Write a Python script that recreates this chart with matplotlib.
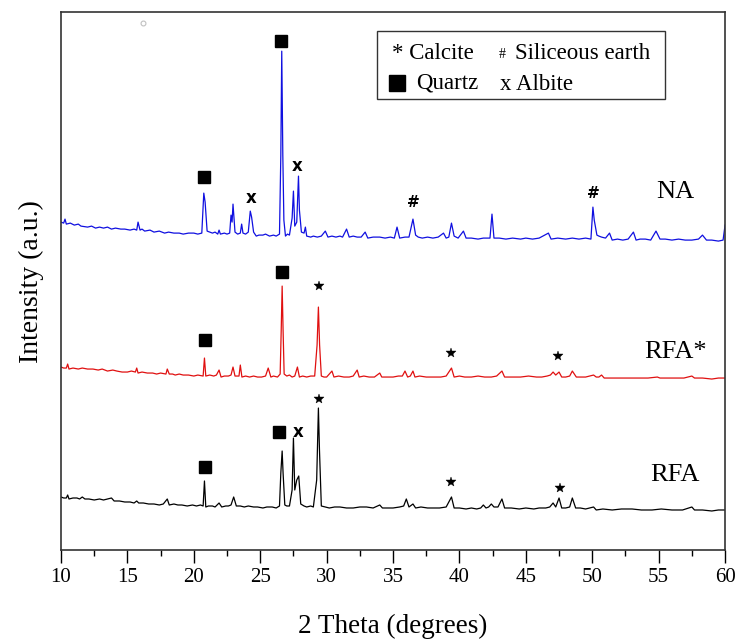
import matplotlib
matplotlib.use("Agg")
import matplotlib.pyplot as plt
from matplotlib.ticker import MultipleLocator

# XRD patterns: (2theta, intensity a.u.) for each sample
na_pattern = [(10.0, 28), (10.2, 27), (10.3, 31), (10.4, 26), (10.7, 27), (11.0, 25), (11.3, 26), (11.5, 24),
              (12.0, 23), (12.3, 24), (12.6, 22), (12.9, 23), (13.2, 22), (13.5, 23), (13.8, 21), (14.1, 22),
              (14.5, 21), (14.8, 21), (15.2, 20), (15.5, 21), (15.7, 20), (15.8, 28), (15.95, 20), (16.1, 21),
              (16.3, 19), (16.7, 20), (17.0, 18), (17.4, 19), (17.8, 17), (18.1, 18), (18.5, 17), (18.9, 17),
              (19.2, 16), (19.6, 17), (20.0, 17), (20.3, 16), (20.6, 17), (20.75, 57), (20.85, 48), (21.0, 19),
              (21.2, 18), (21.4, 17), (21.6, 18), (21.8, 16), (21.9, 20), (22.0, 16), (22.3, 17), (22.5, 16),
              (22.7, 17), (22.8, 35), (22.88, 28), (22.95, 46), (23.1, 18), (23.3, 16), (23.5, 17), (23.6, 26),
              (23.7, 17), (23.9, 16), (24.1, 18), (24.25, 39), (24.35, 33), (24.5, 18), (24.7, 14), (24.9, 15),
              (25.2, 15), (25.4, 16), (25.7, 14), (26.0, 15), (26.2, 14), (26.45, 16), (26.55, 95), (26.62, 199),
              (26.7, 95), (26.78, 30), (26.9, 14), (27.05, 16), (27.2, 15), (27.4, 32), (27.5, 59), (27.6, 24),
              (27.75, 28), (27.88, 74), (27.95, 40), (28.1, 18), (28.3, 17), (28.4, 23), (28.5, 14), (28.8, 13),
              (29.0, 14), (29.3, 13), (29.6, 14), (29.9, 19), (30.1, 13), (30.4, 14), (30.7, 13), (31.0, 14),
              (31.2, 13), (31.5, 21), (31.7, 13), (32.0, 14), (32.3, 13), (32.6, 13), (32.9, 18), (33.1, 12),
              (33.5, 13), (34.0, 13), (34.4, 12), (34.8, 13), (35.1, 12), (35.3, 23), (35.5, 12), (35.9, 13),
              (36.2, 13), (36.5, 31), (36.7, 15), (36.9, 13), (37.2, 12), (37.6, 13), (38.0, 12), (38.4, 13),
              (38.8, 17), (39.0, 12), (39.2, 13), (39.4, 27), (39.6, 14), (39.9, 12), (40.3, 19), (40.5, 12),
              (40.9, 12), (41.4, 11), (41.8, 12), (42.3, 12), (42.45, 36), (42.6, 12), (43.0, 12), (43.5, 11),
              (44.0, 12), (44.6, 11), (45.0, 12), (45.5, 11), (46.0, 12), (46.7, 17), (46.9, 11), (47.4, 12),
              (48.0, 11), (48.5, 12), (49.0, 11), (49.5, 12), (49.9, 11), (50.05, 43), (50.15, 30), (50.35, 15),
              (50.5, 14), (50.7, 13), (51.0, 12), (51.3, 17), (51.5, 10), (51.9, 11), (52.3, 10), (52.7, 11),
              (53.1, 18), (53.3, 10), (53.6, 11), (54.0, 11), (54.4, 10), (54.8, 19), (55.1, 11), (55.5, 11),
              (56.0, 10), (56.5, 11), (57.0, 10), (57.5, 10), (58.0, 11), (58.3, 15), (58.6, 10), (59.0, 10),
              (59.5, 9), (59.85, 10), (60.0, 25)]

rfas_pattern = [(10.0, 23), (10.2, 22), (10.4, 22), (10.5, 26), (10.6, 21), (10.9, 22), (11.3, 21), (11.6, 22),
                (12.0, 21), (12.4, 21), (12.8, 20), (13.1, 21), (13.5, 19), (13.9, 20), (14.2, 19), (14.6, 18),
                (15.0, 18), (15.3, 19), (15.6, 18), (15.7, 22), (15.8, 17), (16.1, 18), (16.5, 17), (16.9, 17),
                (17.2, 16), (17.5, 17), (17.9, 16), (18.0, 21), (18.15, 16), (18.4, 16), (18.6, 15), (18.9, 16),
                (19.2, 15), (19.6, 15), (20.0, 14), (20.3, 15), (20.7, 14), (20.8, 32), (20.9, 14), (21.2, 15),
                (21.5, 14), (21.7, 15), (21.9, 20), (22.05, 13), (22.3, 14), (22.6, 14), (22.8, 15), (22.95, 23),
                (23.1, 14), (23.4, 14), (23.5, 25), (23.62, 13), (23.9, 14), (24.2, 13), (24.5, 14), (24.8, 13),
                (25.1, 13), (25.4, 14), (25.6, 22), (25.8, 13), (26.0, 14), (26.3, 13), (26.5, 16), (26.58, 60),
                (26.65, 104), (26.72, 60), (26.8, 16), (27.0, 14), (27.2, 15), (27.4, 13), (27.6, 14), (27.8, 23),
                (27.95, 13), (28.2, 14), (28.5, 13), (28.8, 14), (29.1, 14), (29.28, 45), (29.38, 83), (29.47, 45),
                (29.6, 14), (29.8, 13), (30.0, 13), (30.4, 19), (30.55, 13), (30.9, 14), (31.3, 13), (31.7, 13),
                (32.0, 14), (32.3, 20), (32.45, 13), (32.8, 14), (33.2, 13), (33.6, 13), (34.0, 17), (34.15, 13),
                (34.5, 13), (35.0, 13), (35.4, 14), (35.7, 14), (35.9, 19), (36.1, 13), (36.3, 14), (36.5, 19),
                (36.65, 13), (37.0, 14), (37.5, 13), (38.0, 13), (38.6, 13), (39.0, 14), (39.4, 22), (39.6, 13),
                (40.0, 14), (40.4, 13), (40.9, 13), (41.4, 14), (41.9, 13), (42.4, 13), (42.8, 14), (43.2, 19),
                (43.4, 13), (44.0, 13), (44.6, 13), (45.2, 14), (45.8, 13), (46.2, 13), (46.6, 14), (46.85, 15),
                (47.05, 18), (47.25, 15), (47.5, 18), (47.7, 13), (48.0, 13), (48.3, 14), (48.5, 19), (48.8, 13),
                (49.1, 13), (49.5, 13), (49.8, 14), (50.1, 15), (50.3, 13), (50.5, 13), (50.7, 15), (50.9, 12),
                (51.5, 12), (52.0, 12), (52.7, 12), (53.5, 12), (54.2, 12), (54.9, 13), (55.1, 12), (55.7, 12),
                (56.3, 12), (56.9, 12), (57.5, 14), (57.7, 12), (58.3, 12), (59.0, 11), (59.5, 12), (60.0, 12)]

rfa_pattern = [(10.0, 23), (10.2, 22), (10.4, 22), (10.5, 25), (10.6, 21), (10.9, 22), (11.2, 22), (11.4, 21),
               (11.6, 23), (11.8, 21), (12.1, 21), (12.5, 20), (12.9, 21), (13.2, 20), (13.5, 21), (13.8, 22),
               (14.0, 19), (14.4, 19), (14.8, 18), (15.2, 18), (15.5, 17), (15.7, 19), (15.85, 17), (16.2, 17),
               (16.6, 16), (17.0, 16), (17.4, 15), (17.7, 16), (18.0, 21), (18.15, 15), (18.5, 16), (18.8, 15),
               (19.1, 15), (19.5, 14), (19.9, 15), (20.2, 14), (20.5, 15), (20.7, 14), (20.8, 39), (20.9, 13),
               (21.1, 14), (21.4, 14), (21.6, 13), (21.9, 17), (22.1, 13), (22.4, 14), (22.6, 14), (22.8, 15),
               (23.0, 23), (23.2, 14), (23.5, 14), (23.8, 13), (24.1, 14), (24.5, 13), (24.8, 13), (25.2, 12),
               (25.5, 13), (25.9, 13), (26.2, 12), (26.45, 14), (26.55, 47), (26.65, 69), (26.72, 47), (26.85, 15),
               (27.0, 14), (27.2, 14), (27.4, 30), (27.5, 82), (27.6, 30), (27.75, 40), (27.9, 44), (28.05, 16),
               (28.3, 14), (28.5, 13), (28.8, 14), (29.0, 13), (29.25, 40), (29.38, 112), (29.46, 70), (29.6, 14),
               (29.9, 13), (30.2, 12), (30.6, 13), (31.0, 13), (31.5, 12), (32.0, 12), (32.5, 13), (33.0, 13),
               (33.5, 12), (34.0, 15), (34.2, 12), (34.6, 12), (35.0, 12), (35.5, 13), (35.8, 14), (36.0, 21),
               (36.2, 13), (36.5, 16), (36.7, 12), (37.1, 13), (37.6, 12), (38.0, 12), (38.5, 12), (39.0, 13),
               (39.4, 23), (39.6, 12), (40.0, 12), (40.5, 11), (40.9, 12), (41.3, 11), (41.6, 12), (41.8, 15),
               (42.0, 12), (42.2, 13), (42.4, 16), (42.6, 13), (42.9, 13), (43.2, 21), (43.4, 12), (43.9, 12),
               (44.5, 11), (45.0, 12), (45.6, 11), (46.0, 12), (46.5, 12), (46.8, 13), (47.05, 17), (47.25, 13),
               (47.5, 22), (47.7, 12), (48.0, 12), (48.3, 13), (48.5, 22), (48.75, 12), (49.1, 12), (49.5, 11),
               (49.8, 12), (50.1, 13), (50.3, 10), (50.8, 11), (51.5, 10), (52.2, 11), (53.0, 11), (53.7, 10),
               (54.5, 10), (55.2, 11), (56.0, 10), (56.8, 10), (57.5, 13), (57.7, 10), (58.3, 10), (59.0, 9),
               (59.5, 10), (60.0, 10)]

# phase marks above the peaks: (2theta, intensity, symbol)
na_marks = [(20.8, 73, 's'), (26.6, 209, 's'), (24.35, 52, 'x'), (27.8, 84, 'x'),
            (36.5, 48, '#'), (50.1, 57, '#')]
rfas_marks = [(20.85, 50, 's'), (26.65, 118, 's'), (29.4, 104, '*'), (39.4, 37, '*'), (47.4, 34, '*')]
rfa_marks = [(20.85, 53, 's'), (26.45, 88, 's'), (27.85, 88, 'x'), (29.4, 121, '*'),
             (39.4, 38, '*'), (47.6, 32, '*')]

plt.rcParams['font.family'] = ['Liberation Serif', 'DejaVu Serif']

fig = plt.figure(figsize=(7.37, 6.41), dpi=100)
ax = fig.add_axes([0.0828, 0.142, 0.901, 0.839])

traces = [
    (na_pattern, na_marks, 300, '#1010e0', 'NA', 0.665),
    (rfas_pattern, rfas_marks, 160, '#e01010', 'RFA*', 0.368),
    (rfa_pattern, rfa_marks, 30, 'black', 'RFA', 0.139),
]

for pattern, marks, off, col, name, ypos in traces:
    th = [p[0] for p in pattern]
    inten = [p[1] + off for p in pattern]
    ax.plot(th, inten, color=col, lw=0.9)
    for x, y, sym in marks:
        if sym == 's':
            ax.plot(x, y + off, marker='s', ms=8.5, color='black', mec='black')
        elif sym == '*':
            ax.plot(x, y + off, marker='*', ms=7, color='black', mec='black', mew=0.3)
        else:
            ax.text(x, y + off, sym, ha='center', va='center', fontsize=12 if sym == 'x' else 11,
                    fontweight='bold', family='DejaVu Sans')
    ax.text(0.925, ypos, name, transform=ax.transAxes, ha='center', va='center', fontsize=19)

# small stray circle in the original
ax.plot(16.2, 527, marker='o', ms=3.5, mfc='none', mec='#c0c0c0', mew=0.8)

# legend box drawn by hand
lg = plt.Rectangle((0.476, 0.838), 0.434, 0.127, transform=ax.transAxes, fill=False,
                   ec='#333333', lw=1.0)
ax.add_patch(lg)
ax.text(0.4985, 0.924, '* Calcite', transform=ax.transAxes, ha='left', va='center', fontsize=16.5)
ax.text(0.664, 0.922, '#', transform=ax.transAxes, ha='center', va='center', fontsize=10)
ax.text(0.684, 0.924, 'Siliceous earth', transform=ax.transAxes, ha='left', va='center', fontsize=16.5)
ax.plot(0.506, 0.868, marker='s', ms=11, color='black', transform=ax.transAxes)
ax.text(0.535, 0.868, 'Quartz', transform=ax.transAxes, ha='left', va='center', fontsize=16.5)
ax.text(0.661, 0.866, 'x Albite', transform=ax.transAxes, ha='left', va='center', fontsize=16.5)

ax.set_xlim(10, 60)
ax.set_ylim(0, 538)
ax.xaxis.set_major_locator(MultipleLocator(5))
ax.xaxis.set_minor_locator(MultipleLocator(2.5))
ax.tick_params(axis='x', which='major', direction='out', length=9, width=1.0, labelsize=15, pad=4)
ax.tick_params(axis='x', which='minor', direction='out', length=4.5, width=1.0)
ax.set_yticks([])
for sp in ax.spines.values():
    sp.set_color('#333333')
    sp.set_linewidth(1.2)

ax.set_xlabel('2 Theta (degrees)', fontsize=19.5, labelpad=19)
ax.set_ylabel('Intensity (a.u.)', fontsize=20, labelpad=12)

fig.savefig('out.png', dpi=100)
